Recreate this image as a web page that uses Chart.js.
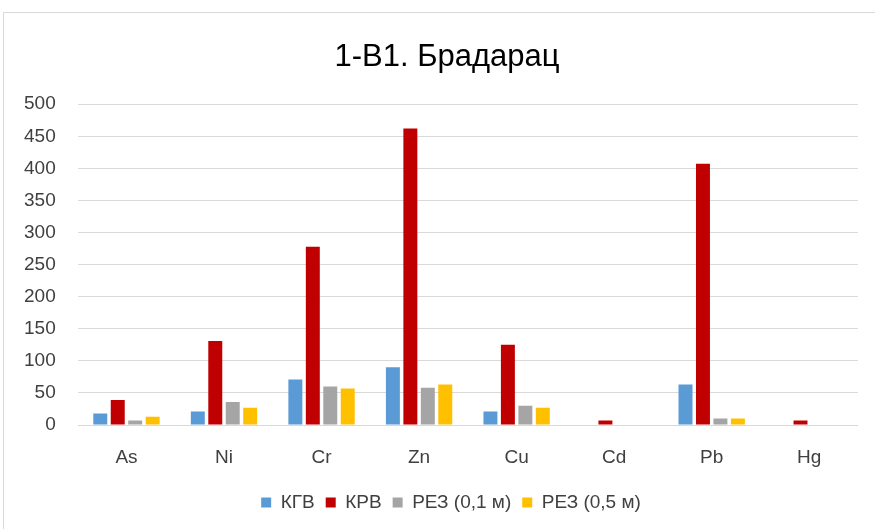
<!DOCTYPE html>
<html>
<head>
<meta charset="utf-8">
<script src="https://cdn.jsdelivr.net/npm/chart.js@4.4.1/dist/chart.umd.min.js"></script>
<style>
  html, body { margin: 0; padding: 0; background: #ffffff; overflow: hidden; }
  #wrap { position: relative; width: 875px; height: 529px; }
  #frame { position: absolute; left: 3px; top: 12px; width: 900px; height: 560px; border: 1px solid #d9d9d9; box-sizing: border-box; }
  canvas { position: absolute; left: 0; top: 0; }
</style>
</head>
<body>
<div id="wrap">
  <div id="frame"></div>
  <canvas id="c" width="875" height="529"></canvas>
</div>
<script>
const categories = ['As', 'Ni', 'Cr', 'Zn', 'Cu', 'Cd', 'Pb', 'Hg'];
const seriesNames = ['КГВ', 'КРВ', 'РЕЗ (0,1 м)', 'РЕЗ (0,5 м)'];
const kgv   = [18, 21, 71, 90, 21, 0, 63, 0];
const krv   = [39, 131, 278, 462, 125, 7, 407, 7];
const rez01 = [7, 36, 60, 58, 30, 0, 10, 0];
const rez05 = [13, 27, 57, 63, 27, 0, 10, 0];
const yTicks = [0, 50, 100, 150, 200, 250, 300, 350, 400, 450, 500];
const chartTitle = '1-B1. Брадарац';

const colors = ['#5B9BD5', '#C00000', '#A5A5A5', '#FFC000'];
const seriesData = [kgv, krv, rez01, rez05];

const FONT = "'Liberation Sans', Arial, sans-serif";
const TXT = '#404040';

// shift the title and legend horizontally to match the reference centring
const centreShift = {
  id: 'centreShift',
  afterLayout(chart) {
    if (chart.titleBlock) { chart.titleBlock.left += 17; chart.titleBlock.right += 17; }
    if (chart.legend) { chart.legend.left += 21; chart.legend.right += 21; }
  }
};

new Chart(document.getElementById('c'), {
  type: 'bar',
  data: {
    labels: categories,
    datasets: seriesNames.map((n, i) => ({
      label: n,
      data: seriesData[i],
      backgroundColor: colors[i],
      borderWidth: 0,
      categoryPercentage: 0.716,
      barPercentage: 0.8
    }))
  },
  plugins: [centreShift],
  options: {
    responsive: false,
    animation: false,
    devicePixelRatio: 1,
    layout: { padding: { left: 2, right: 17, top: 0, bottom: 7 } },
    plugins: {
      title: {
        display: true,
        text: chartTitle,
        color: '#000000',
        font: { family: FONT, size: 31, weight: 'normal' },
        padding: { top: 39, bottom: 28 }
      },
      legend: {
        position: 'bottom',
        labels: {
          boxWidth: 10,
          boxHeight: 10,
          padding: 11,
          color: TXT,
          font: { family: FONT, size: 19 }
        }
      },
      tooltip: { enabled: false }
    },
    scales: {
      x: {
        grid: { display: false, drawTicks: false },
        border: { display: false },
        ticks: { color: TXT, padding: 21, font: { family: FONT, size: 19 } },
        afterFit: s => { s.height = 57; }
      },
      y: {
        min: 0,
        max: 500,
        afterBuildTicks: s => { s.ticks = yTicks.map(v => ({ value: v })); },
        grid: { color: '#d9d9d9', lineWidth: 1, drawTicks: false },
        border: { display: false },
        ticks: { color: TXT, padding: 22, font: { family: FONT, size: 19 } }
      }
    }
  }
});
</script>
</body>
</html>
